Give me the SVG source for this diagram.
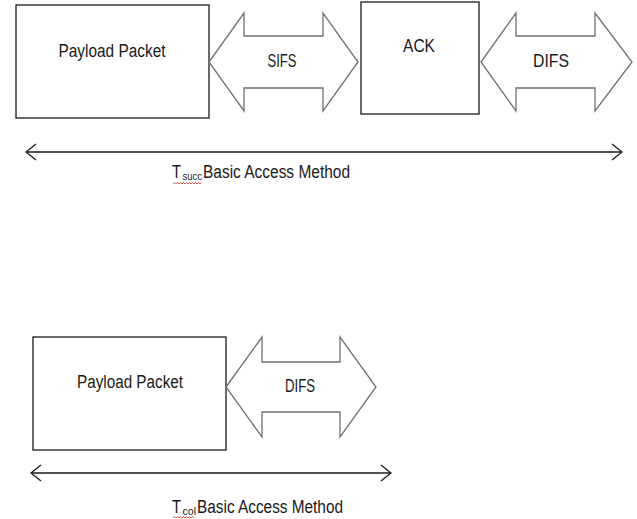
<svg xmlns="http://www.w3.org/2000/svg" width="637" height="519" viewBox="0 0 637 519">
<style>
.box{fill:#fff;stroke:#1a1a1a;stroke-width:1.3}
.darr{fill:#fff;stroke:#707070;stroke-width:1.3;stroke-linejoin:miter}
.lbl{font-family:"Liberation Sans",Arial,sans-serif;font-size:18px;fill:#1a1a1a}
.sub{font-family:"Liberation Sans",Arial,sans-serif;font-size:11px;fill:#1a1a1a}
.line{stroke:#1a1a1a;stroke-width:1.3;fill:none}
.wavy{stroke:#e03030;stroke-width:0.8;fill:none}
</style>
<defs>
<marker id="chev" markerUnits="userSpaceOnUse" viewBox="0 0 12 18" refX="11" refY="9" markerWidth="12" markerHeight="18" orient="auto-start-reverse">
<path d="M1,1 L11,9 L1,17" fill="none" stroke="#1a1a1a" stroke-width="1.3"/>
</marker>
</defs>
<rect width="637" height="519" fill="#fff"/>
<g id="payload1">
<rect class="box" x="16" y="5" width="193" height="113"/>
<text class="lbl" x="112" y="57" text-anchor="middle" textLength="107" lengthAdjust="spacingAndGlyphs">Payload Packet</text>
</g>
<g id="sifs">
<path class="darr" d="M209,62 L244,13 L244,36 L323,36 L323,13 L358,62 L323,111 L323,88 L244,88 L244,111 Z"/>
<text class="lbl" x="282" y="67" text-anchor="middle" textLength="29" lengthAdjust="spacingAndGlyphs">SIFS</text>
</g>
<g id="ack">
<rect class="box" x="361" y="2" width="118" height="112"/>
<text class="lbl" x="419" y="52" text-anchor="middle" textLength="32" lengthAdjust="spacingAndGlyphs">ACK</text>
</g>
<g id="difs1">
<path class="darr" d="M481,62 L516,13 L516,36 L595,36 L595,13 L632,62 L595,111 L595,88 L516,88 L516,111 Z"/>
<text class="lbl" x="551" y="67" text-anchor="middle" textLength="36" lengthAdjust="spacingAndGlyphs">DIFS</text>
</g>
<g id="payload2">
<rect class="box" x="33" y="337" width="193" height="113"/>
<text class="lbl" x="130" y="388" text-anchor="middle" textLength="106" lengthAdjust="spacingAndGlyphs">Payload Packet</text>
</g>
<g id="difs2">
<path class="darr" d="M226,387 L262,337 L262,362 L340,362 L340,337 L376,387 L340,437 L340,412 L262,412 L262,437 Z"/>
<text class="lbl" x="300" y="392" text-anchor="middle" textLength="30" lengthAdjust="spacingAndGlyphs">DIFS</text>
</g>
<g id="connectors">
<line class="line" x1="26" y1="152" x2="622" y2="152" marker-start="url(#chev)" marker-end="url(#chev)"/>
<line class="line" x1="31" y1="473" x2="391" y2="473" marker-start="url(#chev)" marker-end="url(#chev)"/>
</g>
<g id="label-succ">
<text class="lbl" x="172" y="178" textLength="9" lengthAdjust="spacingAndGlyphs">T</text>
<text class="sub" x="182.5" y="180" textLength="19.5" lengthAdjust="spacingAndGlyphs">succ</text>
<text class="lbl" x="203" y="178" textLength="147" lengthAdjust="spacingAndGlyphs">Basic Access Method</text>
<path class="wavy" d="M173,184 l1.5,-1.5 l1.5,1.5 l1.5,-1.5 l1.5,1.5 l1.5,-1.5 l1.5,1.5 l1.5,-1.5 l1.5,1.5 l1.5,-1.5 l1.5,1.5 l1.5,-1.5 l1.5,1.5 l1.5,-1.5 l1.5,1.5 l1.5,-1.5 l1.5,1.5 l1.5,-1.5 l1.5,1.5 l1.5,-1.5"/>
</g>
<g id="label-col">
<text class="lbl" x="172" y="513" textLength="9" lengthAdjust="spacingAndGlyphs">T</text>
<text class="sub" x="182.5" y="515" textLength="13.5" lengthAdjust="spacingAndGlyphs">col</text>
<text class="lbl" x="197" y="513" textLength="146" lengthAdjust="spacingAndGlyphs">Basic Access Method</text>
<path class="wavy" d="M173,518 l1.5,-1.5 l1.5,1.5 l1.5,-1.5 l1.5,1.5 l1.5,-1.5 l1.5,1.5 l1.5,-1.5 l1.5,1.5 l1.5,-1.5 l1.5,1.5 l1.5,-1.5 l1.5,1.5 l1.5,-1.5 l1.5,1.5"/>
</g>
</svg>
